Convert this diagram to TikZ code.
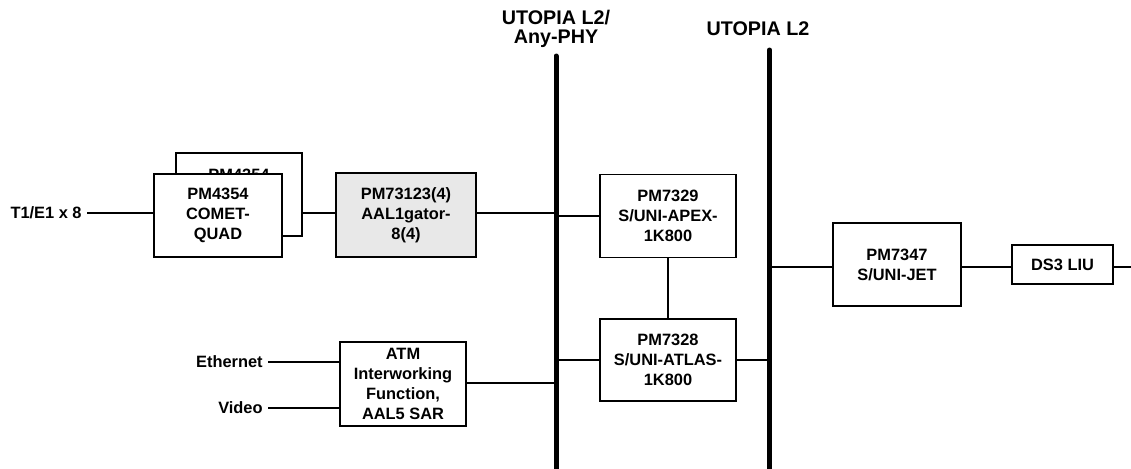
\documentclass[tikz,border=0pt]{standalone}
\usepackage{fontspec}
\setmainfont{Liberation Sans}

\begin{document}
\begin{tikzpicture}[x=.75pt,y=-.75pt,line width=1.4pt,
  every node/.style={font=\bfseries\fontsize{12.3}{15}\selectfont},
  box/.style args={#1x#2}{draw,align=center,inner sep=0pt,minimum width=#1*.75pt,minimum height=#2*.75pt},
  buslbl/.style={align=center,font=\bfseries\fontsize{14.8}{14.5}\selectfont},
  bus/.style={line width=3.75pt,line cap=round}]
\useasboundingbox(0,0)rectangle(1131,468);
% the two buses
\coordinate(b1top)at(556,56);\coordinate(b1bot)at(556,475);
\coordinate(b2top)at(769.5,50);\coordinate(b2bot)at(769.5,475);
\draw[bus](b1top)--(b1bot);\draw[bus](b2top)--(b2bot);
\node[buslbl](b1lbl)at(556,29){UTOPIA L2/\\Any-PHY};\node[buslbl](b2lbl)at(758,29){UTOPIA L2};
% framers
\node[box=126x83](back)at(239,194.5){};\node(backtxt)at(239,175){PM4354};
\node[box=128x83,fill=white](front)at(218,215.5){PM4354\\COMET-\\QUAD};
\node[anchor=east](t1)at(87,213){T1/E1 x 8};
\node[box=140x84,fill=gray!18](aal)at(406,215){PM73123(4)\\AAL1gator-\\8(4)};
\draw(t1.east)--(t1.east-|front.west);\draw(aal.west|-t1)--(back.east|-t1);\draw(aal.east|-t1)--(b1top|-t1);
% packet side
\node[box=126x84](atm)at(403,384){ATM\\Interworking\\Function,\\AAL5 SAR};
\node[anchor=east](eth)at(268,362){Ethernet};\node[anchor=east](vid)at(268,408){Video};
\draw(eth.east)--(eth.east-|atm.west);\draw(vid.east)--(vid.east-|atm.west);\draw(atm.east|-0,383)--(b1top|-0,383);
% between the buses
\node[box=136x83](apex)at(668,216){PM7329\\S/UNI-APEX-\\1K800};
\node[box=136x82](atlas)at(668,360){PM7328\\S/UNI-ATLAS-\\1K800};
\draw(apex.west)--(apex.west-|b1top);\draw(apex)--(atlas);
\draw(atlas.west)--(atlas.west-|b1top);\draw(atlas.east)--(atlas.east-|b2top);
% DS3 side
\node[box=128x83](jet)at(897,264.5){PM7347\\S/UNI-JET};
\node[box=101x39](liu)at(1062.5,264.5){DS3 LIU};
\coordinate(out)at(1131,267);
\draw(b2top|-out)--(jet.west|-out);\draw(jet.east|-out)--(liu.west|-out);\draw(liu.east|-out)--(out);
\end{tikzpicture}
\end{document}
